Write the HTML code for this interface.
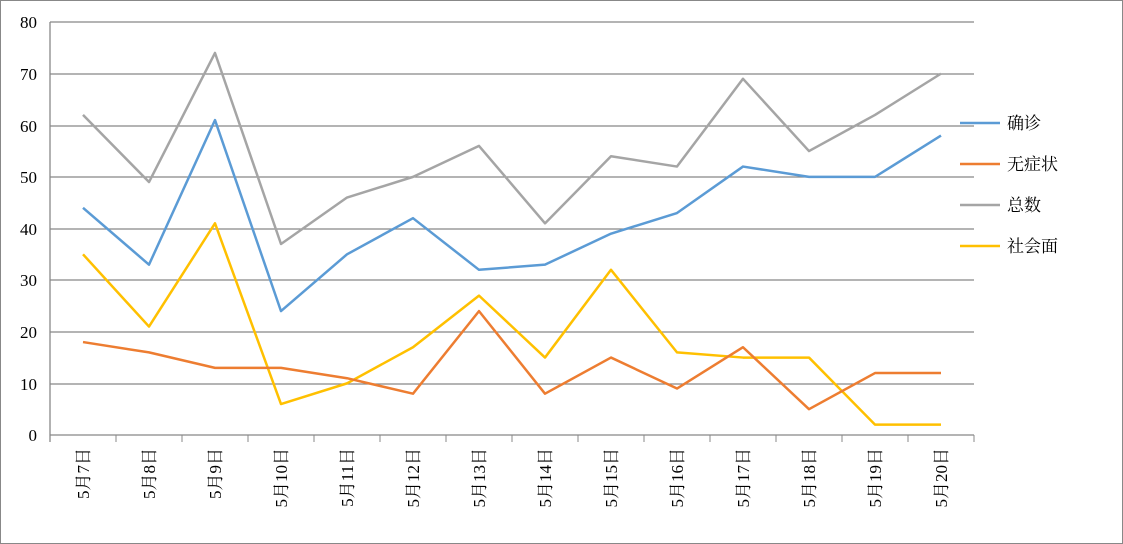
<!DOCTYPE html>
<html><head><meta charset="utf-8"><style>
body{margin:0;background:#fff}
svg{display:block}
text{font-family:"Liberation Serif","Noto Serif CJK SC",serif;font-size:17px;fill:#000}
</style></head><body>
<svg width="1123" height="544" viewBox="0 0 1123 544">
<rect x="0.5" y="0.5" width="1122" height="543" fill="#fff" stroke="#888"/>
<g stroke="#888" stroke-width="1.3">
<line x1="50" x2="974" y1="22" y2="22"/>
<line x1="50" x2="974" y1="74" y2="74"/>
<line x1="50" x2="974" y1="126" y2="126"/>
<line x1="50" x2="974" y1="177" y2="177"/>
<line x1="50" x2="974" y1="229" y2="229"/>
<line x1="50" x2="974" y1="280" y2="280"/>
<line x1="50" x2="974" y1="332" y2="332"/>
<line x1="50" x2="974" y1="384" y2="384"/>
<line x1="50" x2="974" y1="435" y2="435"/>
<line x1="50" x2="50" y1="22" y2="442"/>
</g>
<g id="ticks" stroke="#888"></g>
<g text-anchor="end">
<text x="37" y="441">0</text><text x="37" y="390">10</text><text x="37" y="338">20</text><text x="37" y="286">30</text><text x="37" y="235">40</text><text x="37" y="183">50</text><text x="37" y="132">60</text><text x="37" y="80">70</text><text x="37" y="28">80</text>
</g>
<g id="xl"></g>
<g id="series" fill="none" stroke-width="2.5" stroke-linejoin="round"></g>
<g stroke-width="2.5">
<line x1="960" x2="1000" y1="123" y2="123" stroke="#5B9BD5"/>
<line x1="960" x2="1000" y1="164" y2="164" stroke="#ED7D31"/>
<line x1="960" x2="1000" y1="205" y2="205" stroke="#A5A5A5"/>
<line x1="960" x2="1000" y1="246" y2="246" stroke="#FFC000"/>
</g>
<text x="1007" y="129">确诊</text>
<text x="1007" y="170">无症状</text>
<text x="1007" y="211">总数</text>
<text x="1007" y="252">社会面</text>
</svg>
<script>
var ns="http://www.w3.org/2000/svg";
function X(i){return 50+66*i+33}
function Y(v){return 435-v*5.1625}
var t=document.getElementById("ticks"),xl=document.getElementById("xl"),s=document.getElementById("series");
for(var i=0;i<=14;i++){var l=document.createElementNS(ns,"line");l.setAttribute("x1",50+66*i);l.setAttribute("x2",50+66*i);l.setAttribute("y1",435);l.setAttribute("y2",442);t.appendChild(l);}
for(var i=0;i<14;i++){var tx=document.createElementNS(ns,"text");tx.setAttribute("transform","translate("+(X(i)+6)+",448) rotate(-90)");tx.setAttribute("text-anchor","end");tx.textContent="5月"+(7+i)+"日";xl.appendChild(tx);}
var d=[["#A5A5A5",[62,49,74,37,46,50,56,41,54,52,69,55,62,70]],["#FFC000",[35,21,41,6,10,17,27,15,32,16,15,15,2,2]],["#ED7D31",[18,16,13,13,11,8,24,8,15,9,17,5,12,12]],["#5B9BD5",[44,33,61,24,35,42,32,33,39,43,52,50,50,58]]];
d.forEach(function(a){var p=document.createElementNS(ns,"polyline");p.setAttribute("stroke",a[0]);p.setAttribute("points",a[1].map(function(v,i){return X(i)+","+Y(v)}).join(" "));s.appendChild(p);});
</script>
</body></html>
